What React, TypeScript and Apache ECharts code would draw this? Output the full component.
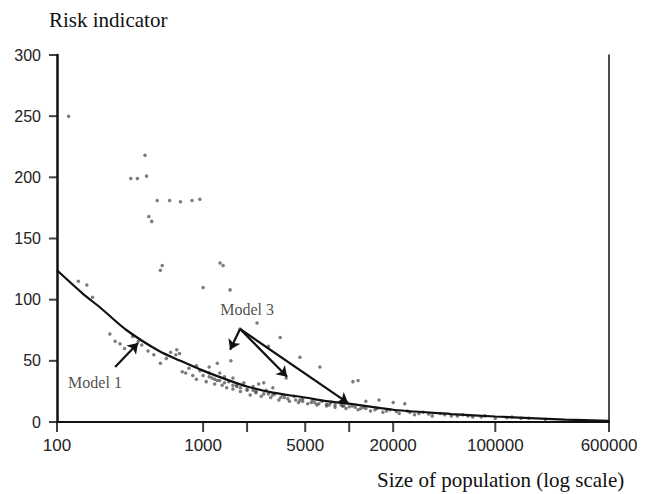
import React, { useEffect, useRef } from 'react';
import * as echarts from 'echarts';

// Fitted model curve
const curveX = [100, 150, 200, 300, 500, 700, 1000, 1500, 2000, 3000, 5000, 7000, 10000, 20000, 50000, 100000, 300000, 600000];
const curveY = [124, 105, 93, 75, 58, 50, 42, 34, 29, 24, 20, 17, 15, 10, 6.5, 4.5, 2, 1];

// Observed points: population size and risk indicator
const popX = [
  120, 400, 320, 355, 410, 485, 590, 700, 840, 950, 425, 445, 510, 525, 1000, 1306, 1370, 1530, 2340, 1790,
  3370, 660, 2800, 4600, 6300, 10600, 11500,
  140, 160, 175, 230, 250, 270, 290, 330, 360, 380, 420, 460, 510, 560, 600, 650, 690, 720, 760,
  800, 850, 900, 950, 1000, 1050, 1100, 1150, 1200, 1250, 1300, 1350, 1400, 1450, 1500, 1550, 1600, 1700, 1800, 1900,
  2000, 2100, 2200, 2300, 2500, 2600, 2700, 2900, 3100, 3300, 3500, 3700, 3900, 4200, 4500, 4800, 5200, 5600, 6000,
  6500, 7000, 7500, 8000, 8800, 9500, 10500, 11500, 12500, 14000, 15500, 17000, 19000, 22000, 25000, 28000, 32000,
  37000, 42000, 50000, 60000, 70000, 85000, 100000, 130000, 170000, 220000, 13000, 16000, 20000, 24000,
  1100, 1250, 1400, 1600, 1800, 2000, 2300, 2600, 3000, 3400, 3800, 4300, 4800, 5500, 6200, 7000, 8000, 9000,
  10000, 11000, 13000, 15000, 18000, 21000, 26000, 30000, 35000, 45000, 55000, 65000, 80000, 120000, 150000,
  900, 1100, 1300, 1600, 2400, 3000, 1200, 1700, 2200, 2800, 3600, 4600, 5800, 7300, 9200, 12000
];
const riskY = [
  250, 218, 199, 199, 201, 181, 181, 180, 181, 182, 168, 164, 124, 128, 110, 130, 128, 108, 81, 76,
  69, 59, 62, 53, 45, 33, 34,
  115, 112, 102, 72, 66, 64, 60, 70, 66, 63, 58, 55, 48, 52, 57, 55, 56, 41, 40,
  44, 38, 35, 42, 38, 33, 40, 36, 31, 48, 34, 30, 37, 28, 33, 50, 27, 30, 25, 32,
  26, 22, 29, 24, 21, 32, 26, 20, 23, 18, 22, 36, 17, 21, 16, 19, 15, 18, 14,
  17, 13, 16, 12, 14, 11, 13, 10, 12, 9, 11, 8, 10, 7, 9, 6, 8,
  5, 7, 5, 6, 4, 5, 3, 4, 3, 2, 17, 18, 16, 15,
  37, 34, 32, 30, 28, 27, 25, 23, 22, 20, 19, 18, 17, 16, 15, 14.5, 14, 13,
  12.5, 12, 11, 10, 9, 8.5, 8, 7, 6.5, 6, 5, 5, 4, 3.5, 3,
  46, 45, 40, 36, 31, 28, 35, 29, 26, 23, 20, 18, 16, 14, 13, 11
];

const xTickValues = [100, 1000, 2000, 5000, 10000, 20000, 100000, 600000];
const xLabelValues = [100, 1000, 5000, 20000, 100000, 600000];
const yTickValues = [0, 50, 100, 150, 200, 250, 300];

// Annotations (data coordinates)
const model1Arrow = [[250, 45], [359, 64.6]];
const model3Origin = [1790, 76];
const model3Targets = [[1530, 59], [3760, 37], [9840, 15.5]];
const annotationNames = ['Model 1', 'Model 3'];
const annotationX = [182, 2000];
const annotationY = [32, 92];

const serif = 'Liberation Serif, serif';
const sans = 'Liberation Sans, sans-serif';

export default function App() {
  const ref = useRef<HTMLDivElement>(null);
  useEffect(() => {
    if (!ref.current) return;
    const chart = echarts.init(ref.current, null, { renderer: 'svg' });
    const arrows = [
      [{ coord: model1Arrow[0] }, { coord: model1Arrow[1] }],
      ...model3Targets.map((t) => [{ coord: model3Origin }, { coord: t }]),
    ];
    const hidden = { show: false };
    chart.setOption({
      animation: false,
      backgroundColor: '#fff',
      grid: [
        { left: 57, right: 36, top: 55, bottom: 72 },
        { left: 57, right: 36, top: 422, height: 10 },
        { left: 49, width: 8, top: 55, bottom: 72 },
      ],
      title: [
        { text: 'Risk indicator', left: 44, top: 4, textStyle: { fontFamily: serif, fontSize: 21, fontWeight: 'normal', color: '#111' } },
        { text: 'Size of population (log scale)', left: 372, top: 464, textStyle: { fontFamily: serif, fontSize: 21, fontWeight: 'normal', color: '#111' } },
      ],
      xAxis: [
        {
          type: 'log',
          logBase: 10,
          min: 100,
          max: 600000,
          gridIndex: 0,
          axisLine: { show: true, lineStyle: { color: '#111', width: 2 } },
          axisTick: { show: false },
          axisLabel: {
            customValues: xLabelValues,
            margin: 15,
            fontSize: 17,
            fontFamily: sans,
            color: '#222',
            formatter: (v: number) => String(Math.round(v)),
          },
          splitLine: { show: false },
          minorTick: { show: false },
        },
        {
          type: 'log',
          logBase: 10,
          min: 100,
          max: 600000,
          gridIndex: 0,
          position: 'top',
          axisLine: { show: true, lineStyle: { color: '#111', width: 2 } },
          axisTick: { show: false },
          axisLabel: { show: false },
          splitLine: { show: false },
        },
        { type: 'log', logBase: 10, min: 100, max: 600000, gridIndex: 1, ...hidden },
        { type: 'value', min: 0, max: 1, gridIndex: 2, ...hidden },
      ],
      yAxis: [
        {
          type: 'value',
          min: 0,
          max: 300,
          interval: 50,
          gridIndex: 0,
          axisLine: { show: true, lineStyle: { color: '#111', width: 2.5 } },
          axisTick: { show: false },
          axisLabel: { margin: 16, fontSize: 16, fontFamily: sans, color: '#222' },
          splitLine: { show: false },
        },
        {
          type: 'value',
          min: 0,
          max: 300,
          interval: 50,
          gridIndex: 0,
          position: 'right',
          axisLine: { show: true, lineStyle: { color: '#111', width: 1.5 } },
          axisTick: { show: false },
          axisLabel: { show: false },
          splitLine: { show: false },
        },
        { type: 'value', min: 0, max: 1, gridIndex: 1, ...hidden },
        { type: 'value', min: 0, max: 300, interval: 50, gridIndex: 2, ...hidden },
      ],
      series: [
        {
          name: 'Observed',
          type: 'scatter',
          data: popX.map((x, i) => [x, riskY[i]]),
          symbol: 'circle',
          symbolSize: 3.5,
          itemStyle: { color: '#444', opacity: 0.7 },
        },
        {
          name: 'Model',
          type: 'line',
          data: curveX.map((x, i) => [x, curveY[i]]),
          smooth: 0.3,
          showSymbol: false,
          lineStyle: { color: '#111', width: 2.2 },
          markLine: {
            symbol: ['none', 'arrow'],
            symbolSize: 10,
            label: { show: false },
            lineStyle: { color: '#111', width: 2.2, type: 'solid' },
            data: arrows,
          },
        },
        {
          name: 'Annotations',
          type: 'scatter',
          symbolSize: 1,
          itemStyle: { color: 'rgba(0,0,0,0)' },
          data: annotationNames.map((n, i) => ({ name: n, value: [annotationX[i], annotationY[i]] })),
          label: { show: true, position: 'inside', formatter: '{b}', fontFamily: serif, fontSize: 16, color: '#222' },
        },
        {
          name: 'X ticks',
          type: 'scatter',
          xAxisIndex: 2,
          yAxisIndex: 2,
          clip: false,
          silent: true,
          symbol: 'rect',
          symbolSize: [2, 10],
          itemStyle: { color: '#111' },
          data: xTickValues.map((v) => [v, 0.5]),
        },
        {
          name: 'Y ticks',
          type: 'scatter',
          xAxisIndex: 3,
          yAxisIndex: 3,
          clip: false,
          silent: true,
          symbol: 'rect',
          symbolSize: [8, 2],
          itemStyle: { color: '#111' },
          data: yTickValues.map((v) => [0.5, v]),
        },
      ],
    });
    return () => chart.dispose();
  }, []);
  return <div ref={ref} style={{ position: 'fixed', left: 0, top: 0, width: 645, height: 494 }} />;
}
